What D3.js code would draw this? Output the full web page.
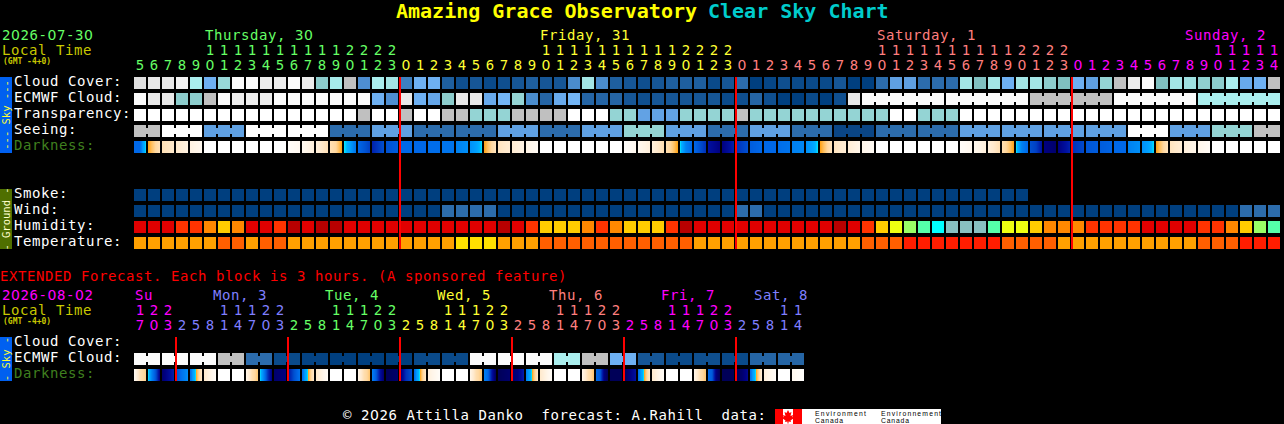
<!DOCTYPE html>
<html><head><meta charset="utf-8">
<script src="https://cdn.jsdelivr.net/npm/d3@7/dist/d3.min.js"></script>
<style>
html,body{margin:0;padding:0;background:#000;overflow:hidden}
svg{display:block}
text{font-family:"DejaVu Sans Mono",monospace;font-size:15px;white-space:pre}
text.thin{font-size:14px;letter-spacing:.57px}
text.digit{font-size:14px;letter-spacing:0}
tspan.z{font-family:"DejaVu Sans",sans-serif}
</style></head><body><svg id="c" width="1284" height="424"></svg>
<script>
// ---------- text ----------
const titleMain = "Amazing Grace Observatory";
const titleSub = "Clear Sky Chart";
const dateMain = "2026-07-30";
const dateExt = "2026-08-02";
const localTimeLabel = "Local Time";
const gmtLabel = "(GMT -4+0)";
const extendedNote = "EXTENDED Forecast. Each block is 3 hours. (A sponsored feature)";
const footerText = "\u00a9 2026 Attilla Danko  forecast: A.Rahill  data:";
const skyLabels = ["Cloud Cover:", "ECMWF Cloud:", "Transparency:", "Seeing:", "Darkness:"];
const groundLabels = ["Smoke:", "Wind:", "Humidity:", "Temperature:"];
const extLabels = ["Cloud Cover:", "ECMWF Cloud:", "Darkness:"];

// ---------- days: first column, label, label position col ----------
const dayNames = ["Thursday, 30", "Friday, 31", "Saturday, 1", "Sunday, 2"];
const dayFirstCol = [0, 19, 43, 67];
const extDayNames = ["Su", "Mon, 3", "Tue, 4", "Wed, 5", "Thu, 6", "Fri, 7", "Sat, 8"];
const extDayFirstCol = [0, 3, 11, 19, 27, 35, 43];
const startHour = 5, extStartHour = 17, extStepHours = 3;

// ---------- hourly values (cloud cover %) ----------
const cloudCover = [90,93,93,97,70,60,75,100,100,95,95,100,95,78,71,85,48,70,72,40,60,60,20,10,15,5,10,15,20,15,15,45,72,45,20,15,10,15,20,20,20,5,15,30,0,3,10,5,5,5,15,0,0,30,55,55,30,30,30,72,80,72,60,72,72,78,80,60,55,76,85,95,100,80,72,73,77,78,70,58,60,85];
const ecmwfHourly = [100,93,93,78,78,85,100,95,95,95,100,100,100,100,100,100,100,60,48,93,60,57,78,93,93,58,62,76,45,25,58,62,25,25,25,15,10,15,15,15,15,15,5,10,25,10,0,0,5,0,10,93];
const ecmwfSixHour = [100,100,85,100,70];
const transparency = [0,0,0,0,0,0,0,0,0,0,0,0,0,0,0,0,1,0,0,1,0,0,1,1,2,2,2,1,1,1,1,0,0,0,2,2,3,3,3,2,2,2,2,1,2,2,2,2,2,2,2,2,2,2,0,0,2,2,2,0,0,0,0,0,0,0,0,0,0,0,0,0,0,0,0,0,0,0,0,0,0,0];
const seeingBlockLen = [2,3,3,3,3,3,3,3,3,3,3,3,3,3,3,3,3,3,3,3,3,3,3,3,3,3,3,2];
const seeingBlockVal = [0,1,3,1,1,4,3,4,4,3,4,3,2,3,4,3,4,5,4,4,3,3,3,3,1,3,2,0];
const darkness = [[7,7,7,5,4.1],[4,3.2,2.4],[2.5,2],[2,1.3],[1.3,.8],[0,0],[0,0],[0,0],[0,0],[0,0],[0,0],[.3,.7],[.7,1.5],[1.5,2.5],[2.5,3,4],[4.02,5,6.5],[7,8.5],[9.5,8],[8,7.5],[7,7],[7,7],[6.8,6.8],[6.5,6.5],[6,5.5],[5.5,5,4.1],[4,3.2,2.3],[2.3,1.8],[1.8,1.2],[1.2,.5],[0,0],[0,0],[0,0],[0,0],[0,0],[0,0],[.2,.8],[.8,1.5],[1.5,2.6],[2.6,3.2,4],[4.02,6,7],[7,8,9],[10,11],[11,9.5],[9,8],[7.5,7],[7,7],[6.8,6.5],[6,5.8],[5.5,5,4.1],[4,3.2,2.3],[2.3,1.7],[1.7,1],[1,.5],[0,0],[0,0],[0,0],[0,0],[0,0],[0,0],[.3,.8],[.8,1.5],[1.5,2.6],[2.6,3.2,4],[4.02,6,7],[8,8.5,10],[11,11.5],[11,9.5],[9,8.2],[7.8,7.5],[7.5,7.2],[7,7],[6,5.5],[5.5,5,4.1],[4,3.2,2.3],[2.3,1.7],[1.5,1],[1,.4],[0,0],[0,0],[0,0],[0,0],[0,0]];
const smoke = [0,0,0,0,0,0,0,0,0,0,0,0,0,0,0,0,0,0,0,0,0,0,0,0,0,0,0,0,0,0,0,0,0,0,0,0,0,0,0,0,0,0,0,0,0,0,0,0,0,0,0,0,0,0,0,0,0,0,0,0,0,0,0,0];
const wind = [0,0,0,0,0,0,0,0,0,0,0,0,0,0,0,0,0,0,0,0,0,0,1,1,1,1,0,0,0,0,0,0,0,0,0,0,0,0,0,0,0,0,0,1,1,0,0,0,0,0,0,0,0,0,0,0,0,0,0,0,0,0,0,0,0,0,0,0,0,0,0,0,0,0,0,0,0,0,0,1,1,1];
const humidity = [90,90,90,85,85,80,75,80,90,90,85,95,90,95,95,90,90,90,90,90,90,90,90,90,90,90,95,90,85,75,75,75,80,85,80,75,75,75,85,95,90,90,90,90,90,90,90,90,90,90,95,90,85,75,70,65,60,55,50,50,50,60,70,70,75,80,80,80,85,85,85,85,90,90,90,90,85,85,80,75,65,60];
const temperature = [24,24,24,24,24,24,22,22,24,22,22,24,24,24,24,24,24,24,24,24,24,24,24,26,26,26,24,24,24,22,22,22,22,22,22,22,22,22,22,22,24,24,24,24,24,24,24,24,24,24,24,24,22,22,22,20,20,20,20,20,20,20,22,22,22,22,24,24,24,24,24,24,24,24,24,24,22,22,22,20,20,20];

// ---------- extended (3-hourly) ----------
const extEcmwfPairs = [100,100,100,85,30,5,2,0,0,0,5,5,100,100,100,70,85,60,15,5,10,5,25,25];
const extDarkness = [[.5,2.5,3.2],[4.02,6,8,11],[11.5,9.5],[8,6.5,5.5],[7,5,4,3,2],[2,.4],[0,0],[0,0],[1,2.6,3.4],[4.02,6,9,11],[11.5,11],[10,8,6.5],[7,5,4,3,2],[2,.4],[0,0],[0,0],[1,2.6,3.4],[6,7.5,10,11.5],[12,11.5],[11.5,9,8],[7,5,4,3,2],[1.5,.3],[0,0],[0,0],[1,2.6,3.4],[6,7,10,12],[12,11.5],[11.5,11,9.5],[6,5,4,3,2],[2,.4],[0,0],[0,0],[1,2.6,3.4],[7,7.5,11,12],[12,12],[12,11,10],[7,5,4,3,2],[2,.4],[0,0],[0,0],[1,2.6,3.4],[7,7.5,11,12],[12,12],[12,11.5,10.5],[7,5,4,3,1.5],[1.5,.4],[0,0],[.8,.1]];

// ---------- colour palettes ----------
const cloudStops = [0,5,10,15,20,25,30,40,45,50,55,60,62,70,75,78,80,85,90,93,95,100];
const cloudColors = ["#003f7f","#0a4a8a","#0f4f8f","#165696","#1e5f9f","#2565a5","#2c6cac","#3d7fc0","#4a8ccc","#5090d4","#5fa0e2","#6eb0f2","#73b5f5","#aaeeee","#98d8d8","#8ccccc","#80c0c0","#c0c0c0","#e0e0e0","#e8e8e8","#ececec","#fbfbfb"];
const transparencyColors = ["#ffffff","#c0c0c0","#94d4d4","#62a2e4"];
const seeingColors = ["#c0c0c0","#ffffff","#94d4d4","#5fa0e2","#2c6cac","#0a4585"];
const darkStops = [0,1,2,3,3.5,4,4.01,4.5,5,6,7,8,9,10,11,12];
const darkColors = ["#ffffff","#fff6ea","#ffe9cc","#ffd79e","#ffc060","#ffa010","#00f0ff","#00b0ff","#00a0ff","#0080f0","#0068e8","#0050d0","#0030b8","#0010a0","#000080","#000058"];
const smokeColors = ["#003f7f"];
const windColors = ["#003f7f","#2c6cac"];
const humidityStops = [50,55,60,65,70,75,80,85,90,95];
const humidityColors = ["#88c0c0","#00ffff","#55ffaa","#99ff66","#eeff11","#ffcc00","#ff8800","#ff3300","#e00000","#b80000"];
const temperatureStops = [20,22,24,26];
const temperatureColors = ["#ff1d00","#ff5f00","#ffa000","#ffe000"];
const dayColors = ["#66ff66","#ffff33","#ff7f7f","#ff00ff"];
const extDayColors = ["#ff00ff","#7f7fff","#66ff66","#ffff33","#ff7f7f","#ff00ff","#7f7fff"];
const LABEL_DARK = "#3f7f1f", LOCAL = "#c8c800";

// ---------- scales ----------
const svg = d3.select("#c");
const x = d3.scaleLinear().domain([0,82]).range([134,1282]);
const cw = 12, rh = 12;
const cloudScale = d3.scaleLinear().domain(cloudStops).range(cloudColors);
const darkScale = d3.scaleLinear().domain(darkStops).range(darkColors);
const humScale = d3.scaleOrdinal(humidityStops, humidityColors);
const tempScale = d3.scaleOrdinal(temperatureStops, temperatureColors);

const root = svg.append("g").attr("shape-rendering","crispEdges");

function cellRow(y, vals, color){
  root.append("g").selectAll("rect").data(vals).join("rect")
    .attr("x",(d,i)=>x(i)).attr("y",y).attr("width",cw).attr("height",rh)
    .attr("fill",d=>color(d));
}
// merged blocks: cells joined by a short bridge across the gap
function blockRow(y, blocks, color){
  const g = root.append("g");
  blocks.forEach(b=>{
    d3.range(b.len).forEach(k=>{
      g.append("rect").attr("x",x(b.start+k)).attr("y",y).attr("width",cw).attr("height",rh).attr("fill",color(b.v));
      if(k<b.len-1) g.append("rect").attr("x",x(b.start+k)+cw).attr("y",y+3).attr("width",2).attr("height",6).attr("fill",color(b.v));
    });
  });
}
function darkRow(y, vals){
  const g = root.append("g");
  const sub = d3.scaleLinear().domain([0,cw]).range([0,1]);
  vals.forEach((samples,i)=>{
    const f = d3.piecewise(d3.interpolateNumber, samples);
    d3.range(cw).forEach(k=>{
      g.append("rect").attr("x",x(i)+k).attr("y",y).attr("width",1).attr("height",rh)
       .attr("fill",darkScale(f(sub(k+.5))));
    });
  });
}
function blocksOf(lens, vals, start){
  let s=start; return lens.map((l,i)=>{const b={start:s,len:l,v:vals[i]}; s+=l; return b;});
}
// the chart's zero has no dot or slash, so zeros are set in the matching proportional face
function txt(str,xp,y,fill,opt={}){
  const t = svg.append("text").attr("x",xp).attr("y",y).attr("fill",fill);
  str.split(/(0)/).filter(s=>s.length).forEach(s=>{
    const sp = t.append("tspan").text(s);
    if(s==="0" && !opt.weight) sp.attr("class","z");
  });
  if(opt.size) t.style("font-size",opt.size+"px");
  if(opt.weight) t.style("font-weight",opt.weight);
  if(opt.anchor) t.attr("text-anchor",opt.anchor);
  if(!opt.size) t.attr("class",opt.anchor?"digit":"thin");
  return t;
}

// ---------- title ----------
txt(titleMain,396,18,"#ffff00",{size:20,weight:"bold"});
txt(titleSub,708,18,"#00cccc",{size:20,weight:"bold"});

// ---------- header, short range ----------
txt(dateMain,2,40,dayColors[0]);
txt(localTimeLabel,2,55,LOCAL);
txt(gmtLabel,3,64,LOCAL,{size:8,weight:"bold"});
const dayOfCol = d3.scaleThreshold().domain(dayFirstCol.slice(1)).range(d3.range(4));
const dayLabelX = [205,540,877,1185];
dayNames.forEach((d,i)=>txt(d,dayLabelX[i],40,dayColors[i]));
d3.range(82).forEach(i=>{
  const h=(startHour+i)%24, c=dayColors[dayOfCol(i)], cx=x(i)+6;
  if(h>=10) txt(String(Math.floor(h/10)),cx,55,c,{anchor:"middle"});
  txt(String(h%10),cx,70,c,{anchor:"middle"});
});

// ---------- row labels ----------
const skyY=[77,93,109,125,141], groundY=[189,205,221,237], extY=[337,353,369];
skyLabels.forEach((l,i)=>txt(l,14,skyY[i]+9,l==="Darkness:"?LABEL_DARK:"#ffffff"));
groundLabels.forEach((l,i)=>txt(l,14,groundY[i]+9,"#ffffff"));
extLabels.forEach((l,i)=>txt(l,14,extY[i]+9,l==="Darkness:"?LABEL_DARK:"#ffffff"));

// ---------- marks, short range ----------
cellRow(skyY[0],cloudCover,cloudScale);
cellRow(skyY[1],ecmwfHourly,cloudScale);
blockRow(skyY[1],blocksOf([6,6,6,6,6],ecmwfSixHour,52),cloudScale);
cellRow(skyY[2],transparency,d=>transparencyColors[d]);
blockRow(skyY[3],blocksOf(seeingBlockLen,seeingBlockVal,0),d=>seeingColors[d]);
darkRow(skyY[4],darkness);
cellRow(groundY[0],smoke,d=>smokeColors[d]);
cellRow(groundY[1],wind,d=>windColors[d]);
cellRow(groundY[2],humidity,humScale);
cellRow(groundY[3],temperature,tempScale);

// midnight lines
dayFirstCol.slice(1).forEach(c=>root.append("rect").attr("x",x(c)-1).attr("y",77).attr("width",2).attr("height",172).attr("fill","#ff0000"));

// ---------- side bars ----------
function sideBar(y,h,fill,label,tc){
  root.append("rect").attr("x",0).attr("y",y).attr("width",12).attr("height",h).attr("fill",fill);
  svg.append("text").attr("transform",`translate(9.5,${y+h/2}) rotate(-90)`).attr("text-anchor","middle").attr("fill",tc).style("font-size","10.5px").text(label);
}
sideBar(77,76,"#0060f0","--- Sky ---","#ffff33");
sideBar(189,60,"#4f6f00","- Ground -","#ffffcc");
sideBar(337,44,"#0060f0","- Sky -","#ffff33");

// ---------- extended ----------
txt(extendedNote,0,281,"#ff0000");
txt(dateExt,2,300,"#ff00ff");
txt(localTimeLabel,2,315,LOCAL);
txt(gmtLabel,3,324,LOCAL,{size:8,weight:"bold"});
const extDayOfCol = d3.scaleThreshold().domain(extDayFirstCol.slice(1)).range(d3.range(7));
const extLabelX=[135,213,325,437,549,661,754];
extDayNames.forEach((d,i)=>txt(d,extLabelX[i],300,extDayColors[i]));
d3.range(48).forEach(i=>{
  const h=(extStartHour+i*extStepHours)%24, c=extDayColors[extDayOfCol(i)], cx=x(i)+6;
  if(h>=10) txt(String(Math.floor(h/10)),cx,315,c,{anchor:"middle"});
  txt(String(h%10),cx,330,c,{anchor:"middle"});
});
blockRow(extY[1],blocksOf(extEcmwfPairs.map(()=>2),extEcmwfPairs,0),cloudScale);
darkRow(extY[2],extDarkness);
extDayFirstCol.slice(1,7).forEach(c=>root.append("rect").attr("x",x(c)-1).attr("y",337).attr("width",2).attr("height",44).attr("fill","#ff0000"));

// ---------- footer ----------
txt(footerText,343,420,"#ffffff");
root.append("rect").attr("x",775).attr("y",409).attr("width",166).attr("height",15).attr("fill","#ffffff");
root.append("rect").attr("x",775).attr("y",409).attr("width",8).attr("height",15).attr("fill","#ff0000");
root.append("rect").attr("x",793).attr("y",409).attr("width",9).attr("height",15).attr("fill","#ff0000");
svg.append("path").attr("fill","#ff0000").attr("d","M788 410l1.5 3 2-1-1 4 2.5-1-.5 2 1.5 1-3.5 2.5.5 1.5-2.5-.5v2h-1v-2l-2.5.5.5-1.5-3.5-2.5 1.5-1-.5-2 2.5 1-1-4 2 1z");
[["Environment",815,51],["Environnement",881,60]].forEach(([s,xp,len])=>{
  txt(s,xp,415.5,"#000000",{size:6.8}).attr("textLength",len).style("font-family","'Liberation Sans',sans-serif");
  txt("Canada",xp,423,"#000000",{size:6.8}).attr("textLength",28).style("font-family","'Liberation Sans',sans-serif");
});
</script></body></html>
